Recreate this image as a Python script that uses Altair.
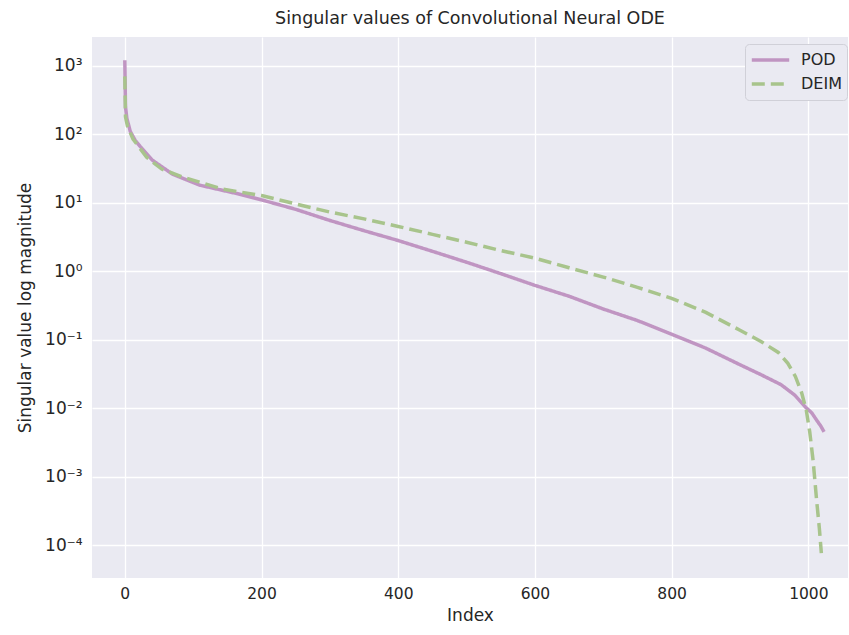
import altair as alt
import pandas as pd

pod_idx = [0, 1, 3, 8, 15, 22, 40, 70, 110, 168, 200, 250, 300, 350, 400, 450, 500, 550, 600, 650, 700, 750, 800, 850, 900, 930, 960, 980, 996, 1005, 1012, 1018, 1023]
pod_val = [1200, 250, 170, 110, 82, 67, 42, 26, 18, 13.3, 11, 8.0, 5.5, 3.9, 2.8, 1.95, 1.35, 0.92, 0.62, 0.43, 0.28, 0.19, 0.12, 0.075, 0.043, 0.031, 0.022, 0.0155, 0.0103, 0.0085, 0.0067, 0.0055, 0.0045]

deim_idx = [0, 1, 4, 12, 32, 54, 85, 143, 200, 250, 300, 350, 400, 450, 500, 550, 600, 650, 700, 750, 800, 850, 900, 930, 956, 970, 981, 990, 997, 1002, 1007, 1012, 1016, 1019]
deim_val = [700, 180, 130, 85, 46, 31, 23.6, 15.8, 12.7, 9.6, 7.3, 5.8, 4.5, 3.45, 2.65, 2.0, 1.55, 1.12, 0.82, 0.58, 0.40, 0.25, 0.137, 0.095, 0.065, 0.045, 0.029, 0.017, 0.0093, 0.0045, 0.0017, 0.00046, 0.00018, 0.000076]

rows = [{"Index": i, "value": v, "method": "POD", "order": k} for k, (i, v) in enumerate(zip(pod_idx, pod_val))]
rows += [{"Index": i, "value": v, "method": "DEIM", "order": k} for k, (i, v) in enumerate(zip(deim_idx, deim_val))]
df = pd.DataFrame(rows)

font = "DejaVu Sans"
label_expr = ("'10' + (round(log(datum.value)/LN10) < 0 ? '⁻' : '') + "
              "substring('⁰¹²³⁴⁵⁶⁷⁸⁹', abs(round(log(datum.value)/LN10)), abs(round(log(datum.value)/LN10)) + 1)")

legend_kw = dict(title=None, orient="none", legendX=653, legendY=7,
                 symbolType="stroke", symbolSize=1400, symbolStrokeWidth=3.5,
                 labelFontSize=16, labelFont=font, labelColor="#262626", labelOffset=10,
                 fillColor="#EAEAF2", strokeColor="#d0d0d8", cornerRadius=4,
                 padding=5, rowPadding=2, clipHeight=22)

chart = alt.Chart(df).mark_line(strokeWidth=3.5, clip=True).encode(
    x=alt.X("Index:Q",
            scale=alt.Scale(domain=[-48, 1058], nice=False, zero=False),
            axis=alt.Axis(values=[0, 200, 400, 600, 800, 1000], format="d", title="Index", grid=True,
                          ticks=False, domain=False, labelFontSize=15.5, titleFontSize=17,
                          labelPadding=8, titlePadding=6, labelColor="#262626", titleColor="#262626",
                          labelFont=font, titleFont=font, titleFontWeight="normal",
                          gridColor="white", gridWidth=1.3)),
    y=alt.Y("value:Q",
            scale=alt.Scale(type="log", domain=[3.3e-5, 2630], nice=False),
            axis=alt.Axis(values=[1e-4, 1e-3, 1e-2, 1e-1, 1, 10, 100, 1000],
                          labelExpr=label_expr, title="Singular value log magnitude", grid=True,
                          ticks=False, domain=False, labelFontSize=17, titleFontSize=17,
                          labelPadding=10, titlePadding=10, labelColor="#262626", titleColor="#262626",
                          labelFont=font, titleFont=font, titleFontWeight="normal",
                          gridColor="white", gridWidth=1.3)),
    color=alt.Color("method:N",
                    scale=alt.Scale(domain=["POD", "DEIM"], range=["#c095c2", "#a8c48c"]),
                    legend=alt.Legend(**legend_kw)),
    strokeDash=alt.StrokeDash("method:N",
                              scale=alt.Scale(domain=["POD", "DEIM"], range=[[1, 0], [13, 6]]),
                              legend=alt.Legend(**legend_kw)),
    order="order:Q",
).properties(
    width=756, height=541,
    title=alt.TitleParams("Singular values of Convolutional Neural ODE", font=font, fontSize=17.5,
                          fontWeight="normal", color="#262626", offset=10),
    autosize=alt.AutoSizeParams(type="none"),
    padding={"left": 92, "top": 37, "right": 1, "bottom": 57},
).configure(background="white").configure_view(fill="#EAEAF2", stroke=None)

chart.save("out.html", embed_options={"renderer": "svg", "actions": False})
